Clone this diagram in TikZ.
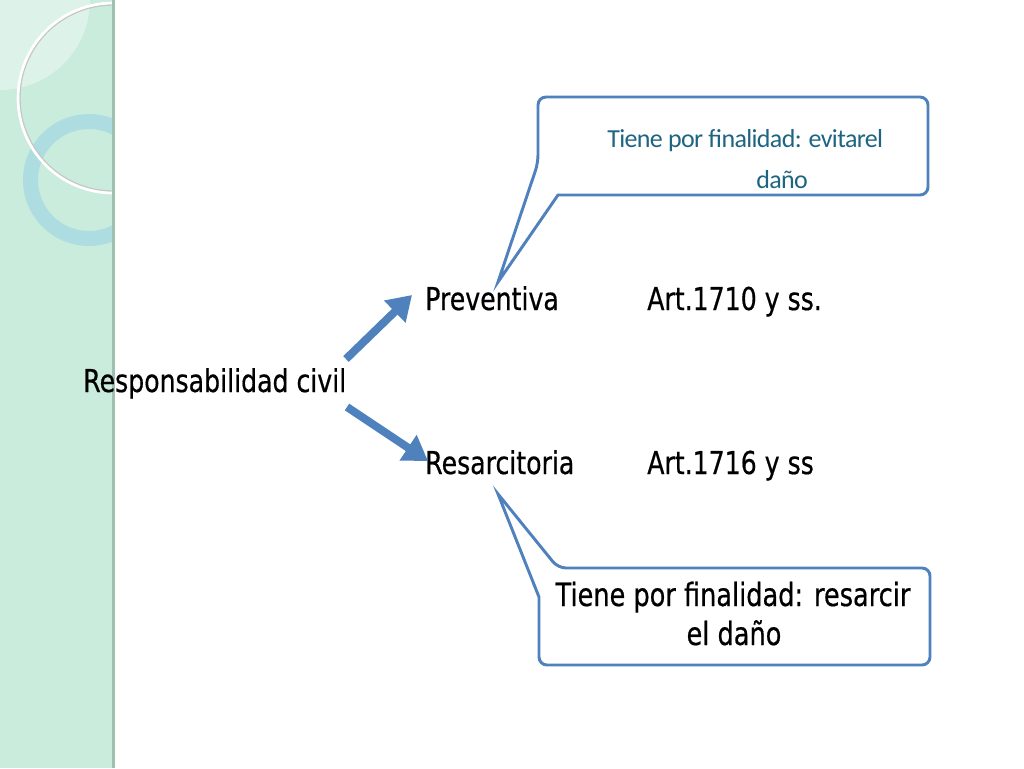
\documentclass[tikz,border=0pt]{standalone}
\usepackage{fontspec}
\setmainfont{DejaVu Sans}[FakeStretch=0.8, FakeBold=0.5]
\newfontfamily\calfont{Carlito}[LetterSpace=-2.5]
\usetikzlibrary{arrows.meta}
\definecolor{stripgreen}{RGB}{201,236,220}
\definecolor{striplight}{RGB}{221,243,233}
\definecolor{ringblue}{RGB}{166,216,228}
\definecolor{edgegray}{RGB}{160,192,178}
\definecolor{officeblue}{RGB}{79,129,189}
\definecolor{tealtext}{RGB}{31,101,130}
\tikzset{
  bigarrow/.style={draw=officeblue, line width=6pt, -{Triangle[length=18pt,width=22pt]}},
  callout/.style={draw=officeblue, line width=2.2pt, fill=white, line join=miter},
  maintext/.style={inner sep=0pt, anchor=base west, font=\fontsize{23.6}{28}\selectfont},
  calltext/.style={inner sep=0pt, anchor=base, font=\fontsize{24}{29}\selectfont},
  uptext/.style={inner sep=0pt, anchor=base west, text=tealtext, font=\calfont\fontsize{19.5}{23}\selectfont}
}
\begin{document}
\begin{tikzpicture}[x=0.75pt,y=-0.75pt]
\useasboundingbox (0,0) rectangle (1024,768);
\fill[white] (0,0) rectangle (1024,768);
% decorative strip
\begin{scope}
  \clip (0,0) rectangle (112,768);
  \fill[stripgreen] (0,0) rectangle (112,768);
  \fill[striplight] (0,0) -- (90,0) arc[start angle=0,end angle=90,radius=90] -- cycle;
  \fill[ringblue, opacity=0.75, even odd rule] (89,180) circle[radius=66] (89,180) circle[radius=51];
  \draw[gray!45, line width=1pt] (113,98) circle[radius=93];
  \draw[white, line width=2pt] (113,98) circle[radius=95];
\end{scope}
\fill[edgegray] (112,0) rectangle (115,768);
% callouts
\coordinate (tipA) at (498,282);
\coordinate (tipB) at (498,494);
\draw[callout] (558,195) [rounded corners=6pt] -- (928,195) -- (928,97) -- (538,97) -- (538,163) [sharp corners] -- (tipA) -- cycle;
\draw[callout] (539,597) [rounded corners=6pt] -- (539,665) -- (930,665) -- (930,568) -- (558,568) [sharp corners] -- (tipB) -- cycle;
\node[uptext] (up1) at (607,147) {Tiene por finalidad: evitarel};
\node[uptext] (up2) at (756,188) {daño};
\node[calltext] (lo1) at (733,606) {Tiene por finalidad: resarcir};
\node[calltext] (lo2) at (734,645) {el daño};
% main texts
\node[maintext] (resp) at (83,392) {Responsabilidad civil};
\node[maintext] (prev) at (425,310) {Preventiva};
\node[maintext] (art1) at (647,310) {Art.1710 y ss.};
\node[maintext] (resa) at (425,474) {Resarcitoria};
\node[maintext] (art2) at (647,474) {Art.1716 y ss};
% arrows
\coordinate (a1s) at (346,359);
\coordinate (a1e) at (412,295);
\coordinate (a2s) at (347,407);
\coordinate (a2e) at (428,461);
\draw[bigarrow] (a1s) -- (a1e);
\draw[bigarrow] (a2s) -- (a2e);
\end{tikzpicture}
\end{document}
